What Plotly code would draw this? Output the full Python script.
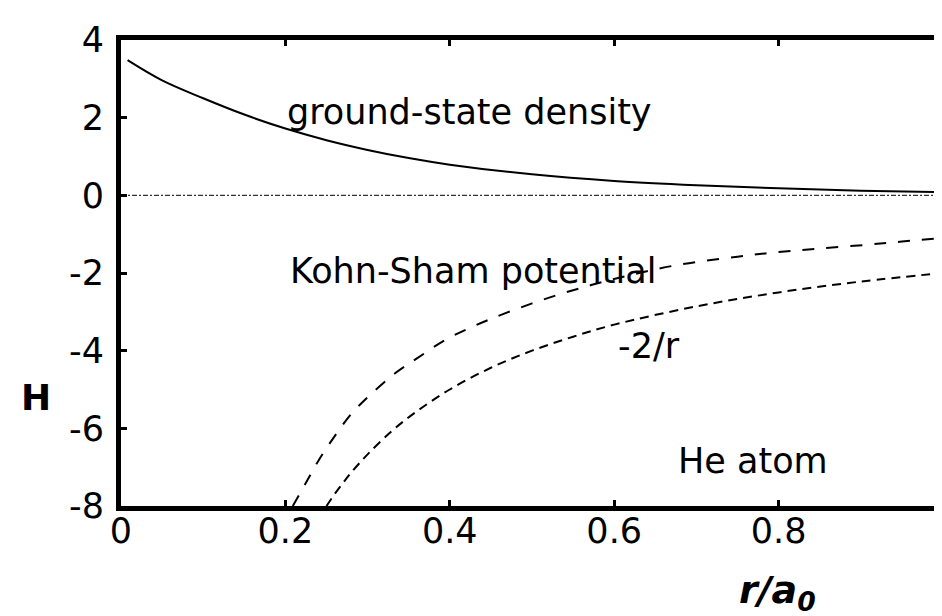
import plotly.graph_objects as go

# ground-state density
r_dens = [0.008, 0.05, 0.1, 0.15, 0.2, 0.25, 0.3, 0.35, 0.4, 0.5, 0.6, 0.7, 0.8, 0.9, 1.0]
dens = [3.48, 2.96, 2.50, 2.08, 1.72, 1.42, 1.17, 0.96, 0.79, 0.54, 0.37, 0.26, 0.18, 0.12, 0.08]

# Kohn-Sham potential
r_ks = [0.209, 0.225, 0.24, 0.26, 0.28, 0.30, 0.333, 0.36, 0.394, 0.43, 0.467, 0.52,
        0.572, 0.62, 0.678, 0.75, 0.8, 0.85, 0.909, 0.95, 1.0]
v_ks = [-8.0, -7.4, -6.84, -6.2, -5.63, -5.2, -4.59, -4.2, -3.73, -3.36, -3.04, -2.64,
        -2.31, -2.05, -1.79, -1.58, -1.46, -1.37, -1.27, -1.19, -1.10]

# -2/r
r_c = [0.25, 0.26, 0.27, 0.28, 0.3, 0.33, 0.36, 0.4, 0.45, 0.5, 0.55, 0.6, 0.7, 0.8, 0.9, 1.0]
v_c = [-8.0, -7.69, -7.41, -7.14, -6.67, -6.06, -5.56, -5.0, -4.44, -4.0, -3.64, -3.33,
       -2.86, -2.5, -2.22, -2.0]

# zero reference line
r_zero = [0.0, 1.0]
v_zero = [0.0, 0.0]

x_ticks = [0, 0.2, 0.4, 0.6, 0.8, 1]
x_ticktext = ["0", "0.2", "0.4", "0.6", "0.8", "1"]
y_ticks = [4, 2, 0, -2, -4, -6, -8]
y_ticktext = ["4", "2", "0", "-2", "-4", "-6", "-8"]

FONT = "DejaVu Sans"

fig = go.Figure()
fig.add_trace(go.Scatter(x=r_zero, y=v_zero, mode="lines",
                         line=dict(color="#333333", width=1.3, dash="5px,2px,2px,2px")))
fig.add_trace(go.Scatter(x=r_dens, y=dens, mode="lines", line_shape="spline",
                         line=dict(color="black", width=2)))
fig.add_trace(go.Scatter(x=r_ks, y=v_ks, mode="lines", line_shape="spline",
                         line=dict(color="black", width=2, dash="12px,12px")))
fig.add_trace(go.Scatter(x=r_c, y=v_c, mode="lines", line_shape="spline",
                         line=dict(color="black", width=2, dash="9px,6px")))

ann_font = dict(family=FONT, size=35, color="black")
fig.add_annotation(x=0.2, y=2.15, text="ground-state density", showarrow=False,
                   xanchor="left", yanchor="middle", font=ann_font)
fig.add_annotation(x=0.203, y=-1.94, text="Kohn-Sham potential", showarrow=False,
                   xanchor="left", yanchor="middle", font=ann_font)
fig.add_annotation(x=0.602, y=-3.89, text="-2/r", showarrow=False,
                   xanchor="left", yanchor="middle", font=ann_font)
fig.add_annotation(x=0.675, y=-6.84, text="He atom", showarrow=False,
                   xanchor="left", yanchor="middle", font=ann_font)

fig.add_annotation(xref="paper", yref="paper", x=-0.1034, y=0.232, text="<b>H</b>",
                   showarrow=False, xanchor="center", yanchor="middle",
                   font=dict(family=FONT, size=36, color="black"))
fig.add_annotation(xref="paper", yref="paper", x=0.799, y=-0.185,
                   text="<b><i>r/a<sub>0</sub></i></b>",
                   showarrow=False, xanchor="center", yanchor="middle",
                   font=dict(family=FONT, size=38, color="black"))

axis_common = dict(showline=True, linewidth=5, linecolor="black", mirror="ticks",
                   ticks="inside", ticklen=6, tickwidth=3, tickcolor="black",
                   showgrid=False, zeroline=False, automargin=False,
                   ticklabeloverflow="allow",
                   tickfont=dict(family=FONT, size=35, color="black"))

fig.update_xaxes(range=[0, 1], tickvals=x_ticks, ticktext=x_ticktext,
                 ticklabelstandoff=-10, **axis_common)
fig.update_yaxes(range=[-8, 4], tickvals=y_ticks, ticktext=y_ticktext,
                 ticklabelstandoff=5, **axis_common)

fig.update_layout(width=942, height=616, showlegend=False,
                  plot_bgcolor="white", paper_bgcolor="white",
                  margin=dict(l=113, r=7, t=32, b=118))

fig.write_html("out.html")
